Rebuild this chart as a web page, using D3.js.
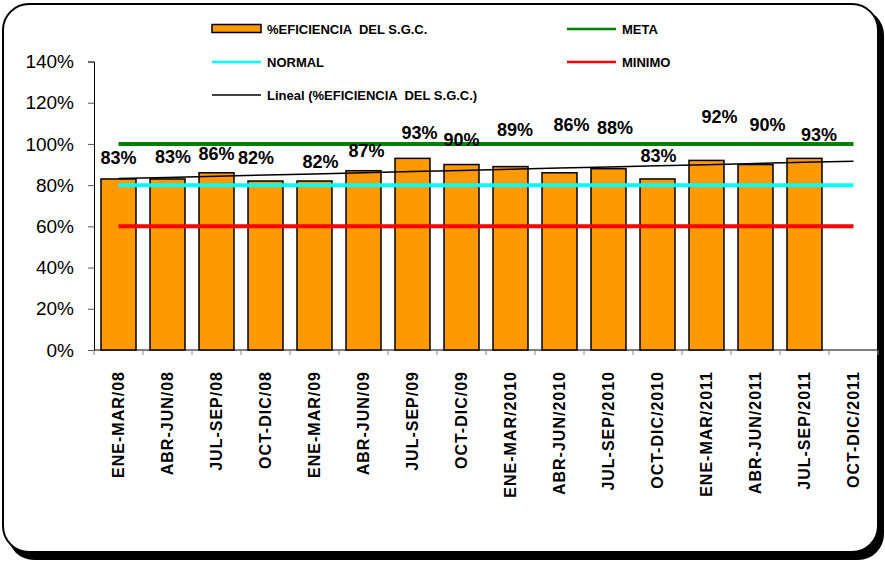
<!DOCTYPE html>
<html>
<head>
<meta charset="utf-8">
<script src="https://cdn.jsdelivr.net/npm/d3@7"></script>
<style>
  body { margin: 0; background: #fff; }
  svg text { font-family: "Liberation Sans", Arial, sans-serif; }
</style>
</head>
<body>
<div id="wrapper"></div>
<script>
// data
const periods = ["ENE-MAR/08", "ABR-JUN/08", "JUL-SEP/08", "OCT-DIC/08",
  "ENE-MAR/09", "ABR-JUN/09", "JUL-SEP/09", "OCT-DIC/09",
  "ENE-MAR/2010", "ABR-JUN/2010", "JUL-SEP/2010", "OCT-DIC/2010",
  "ENE-MAR/2011", "ABR-JUN/2011", "JUL-SEP/2011", "OCT-DIC/2011"];
const eficiencia = [83, 83, 86, 82, 82, 87, 93, 90, 89, 86, 88, 83, 92, 90, 93, null];
const meta   = [100, 100, 100, 100, 100, 100, 100, 100, 100, 100, 100, 100, 100, 100, 100, 100];
const normal = [80, 80, 80, 80, 80, 80, 80, 80, 80, 80, 80, 80, 80, 80, 80, 80];
const minimo = [60, 60, 60, 60, 60, 60, 60, 60, 60, 60, 60, 60, 60, 60, 60, 60];
const yTicks = [0, 20, 40, 60, 80, 100, 120, 140];

const width = 885, height = 562;
const plot = { left: 94, right: 878, top: 61.5, bottom: 350 };

const svg = d3.select("#wrapper").append("svg")
  .attr("width", width).attr("height", height);

// frame with shadow
svg.append("rect").attr("x", 8).attr("y", 9).attr("width", 876).attr("height", 551)
  .attr("rx", 26).attr("fill", "#000");
svg.append("rect").attr("x", 3).attr("y", 4).attr("width", 875).attr("height", 548)
  .attr("rx", 26).attr("fill", "#fff").attr("stroke", "#000").attr("stroke-width", 2);

const x = d3.scaleBand().domain(periods).range([plot.left, plot.right])
  .paddingInner(0.286).paddingOuter(0.143);
const y = d3.scaleLinear().domain([0, 140]).range([plot.bottom, plot.top]);
const cx = d => x(d) + x.bandwidth() / 2;
const gap = (x.step() - x.bandwidth()) / 2;

// y axis
const yAxis = svg.append("g").attr("transform", `translate(${plot.left},0)`)
  .call(d3.axisLeft(y).tickValues(yTicks).tickSize(6).tickPadding(14).tickFormat(d => d + "%"));
yAxis.select(".domain").attr("stroke", "#000");
yAxis.selectAll(".tick line").attr("stroke", "#555");
yAxis.selectAll("text").style("font-size", "19px").attr("fill", "#000");

// x axis: boundary ticks + rotated labels
svg.append("line").attr("x1", plot.left).attr("x2", plot.right)
  .attr("y1", plot.bottom).attr("y2", plot.bottom).attr("stroke", "#000");
svg.selectAll(".xtick").data(periods.concat([null])).enter().append("line")
  .attr("x1", (d, i) => plot.left + i * x.step())
  .attr("x2", (d, i) => plot.left + i * x.step())
  .attr("y1", plot.bottom).attr("y2", plot.bottom + 5)
  .attr("stroke", "#888");
svg.selectAll(".xlab").data(periods).enter().append("text")
  .attr("transform", d => `translate(${cx(d)},371) rotate(-90)`)
  .attr("text-anchor", "end").attr("dy", "0.36em")
  .style("font-size", "16px").style("font-weight", "bold").style("letter-spacing", "1px")
  .text(d => d);

// bars
const barData = periods.map((p, i) => ({ p, v: eficiencia[i] })).filter(d => d.v != null);
svg.selectAll(".bar").data(barData).enter().append("rect")
  .attr("x", d => x(d.p)).attr("width", x.bandwidth())
  .attr("y", d => y(d.v)).attr("height", d => y(0) - y(d.v))
  .attr("fill", "#FF9900").attr("stroke", "#000").attr("stroke-width", 1.5);

// reference lines
const refLine = d3.line().x((d, i) => cx(periods[i])).y(d => y(d));
[[meta, "#008000"], [normal, "#00FFFF"], [minimo, "#FF0000"]].forEach(([s, c]) => {
  svg.append("path").attr("d", refLine(s)).attr("fill", "none")
    .attr("stroke", c).attr("stroke-width", 4);
});

// linear trend (least squares on the bar values)
const pts = barData.map(d => [periods.indexOf(d.p), d.v]);
const mx = d3.mean(pts, d => d[0]), my = d3.mean(pts, d => d[1]);
const slope = d3.sum(pts, d => (d[0] - mx) * (d[1] - my)) / d3.sum(pts, d => (d[0] - mx) ** 2);
const trend = periods.map((p, i) => my + slope * (i - mx));
svg.append("path").attr("d", refLine(trend)).attr("fill", "none")
  .attr("stroke", "#000").attr("stroke-width", 1.5);

// data labels (nudged like in the original sheet)
const labelDx = [0, 5.5, 0, -9.5, 6, 3, 7, 0, 4.5, 12, 6.5, 1, 13, 12, 14.5];
const labelDy = [-15, -15.7, -12.7, -16.7, -13.3, -13.3, -19.3, -18.3, -31, -42, -35, -16.7, -37.3, -33.7, -17];
svg.selectAll(".vlab").data(barData).enter().append("text")
  .attr("x", (d, i) => cx(d.p) + labelDx[i])
  .attr("y", (d, i) => y(d.v) + labelDy[i])
  .attr("text-anchor", "middle")
  .style("font-size", "18px").style("font-weight", "bold")
  .text(d => d.v + "%");

// legend
const legend = [
  { name: "%EFICIENCIA  DEL S.G.C.", type: "bar", color: "#FF9900", x: 212, y: 29 },
  { name: "META", type: "line", color: "#008000", x: 567, y: 29, w: 2.5 },
  { name: "NORMAL", type: "line", color: "#00FFFF", x: 212, y: 62, w: 2.5 },
  { name: "MINIMO", type: "line", color: "#FF0000", x: 567, y: 62, w: 2.5 },
  { name: "Lineal (%EFICIENCIA  DEL S.G.C.)", type: "line", color: "#000", x: 212, y: 95, w: 1.5 }
];
legend.forEach(l => {
  if (l.type === "bar") {
    svg.append("rect").attr("x", l.x).attr("y", l.y - 4.5).attr("width", 49).attr("height", 8)
      .attr("fill", l.color).attr("stroke", "#000").attr("stroke-width", 1.5);
  } else {
    svg.append("line").attr("x1", l.x).attr("x2", l.x + 49).attr("y1", l.y).attr("y2", l.y)
      .attr("stroke", l.color).attr("stroke-width", l.w);
  }
  svg.append("text").attr("x", l.x + 55).attr("y", l.y).attr("dy", "0.36em")
    .style("font-size", "13px").style("font-weight", "bold").style("white-space", "pre")
    .text(l.name);
});
</script>
</body>
</html>
